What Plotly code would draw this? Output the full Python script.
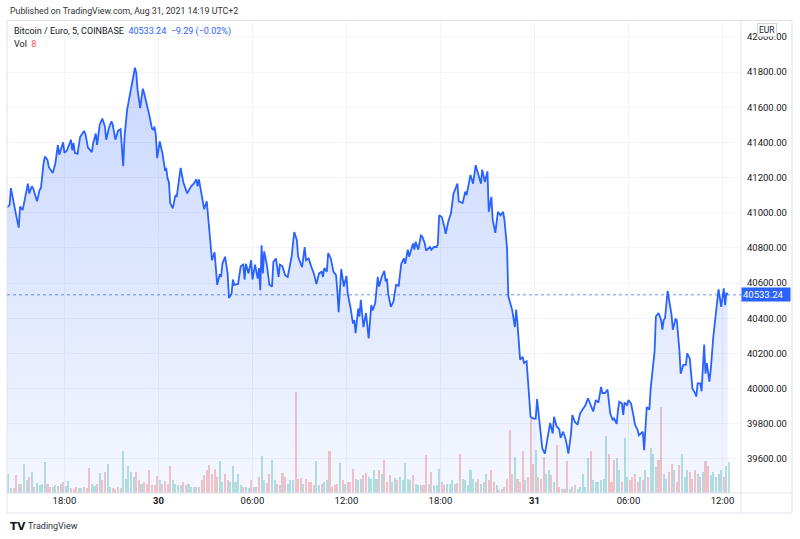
import numpy as np
import pandas as pd
import plotly.graph_objects as go

# ---------------- data ----------------
t29 = ["14:20","14:30","14:35","14:45","14:55","15:05","15:10","15:20","15:30","15:40",
       "15:45","15:55","16:00","16:15","16:25","16:30","16:40","16:45","16:55","17:00",
       "17:15","17:25","17:35","17:40","17:55","18:00","18:10","18:15","18:25","18:30",
       "18:35","18:40","18:50","19:00","19:15","19:20","19:30","19:45","19:50","20:00",
       "20:05","20:15","20:25","20:35","20:40","20:50","21:00","21:05","21:15","21:25",
       "21:35","21:45","21:50","22:00","22:10","22:20","22:30","22:35","22:40","22:50",
       "23:00","23:05","23:15","23:25","23:35","23:40","23:45","23:50","23:55"]
p29 = [41030,41045,41140,41055,40985,40915,41035,41015,41090,41165,
       41110,41150,41140,41065,41130,41140,41280,41320,41300,41260,
       41225,41280,41385,41330,41400,41340,41355,41375,41415,41355,
       41395,41340,41335,41430,41465,41450,41370,41345,41395,41450,
       41385,41500,41535,41490,41415,41480,41520,41500,41415,41465,
       41475,41265,41430,41585,41660,41755,41825,41795,41700,41595,
       41705,41680,41620,41555,41480,41470,41490,41440,41310]

t30 = ["00:05","00:15","00:25","00:30","00:35","00:40","00:45","00:55","01:05","01:10",
       "01:25","01:35","01:50","02:05","02:15","02:25","02:30","02:35","02:45","02:55",
       "03:05","03:10","03:20","03:25","03:35","03:45","03:55","04:00","04:05","04:15",
       "04:25","04:30","04:40","04:45","04:50","05:05","05:15","05:25","05:30","05:35",
       "05:45","05:55","06:00","06:10","06:20","06:25","06:30","06:35","06:40","06:45",
       "06:55","07:05","07:15","07:20","07:30","07:40","07:45","07:55","08:05","08:15",
       "08:30","08:40","08:50","08:55","09:10","09:20","09:25","09:35","09:45","09:55",
       "10:05","10:15","10:25","10:30","10:35","10:45","10:50","11:00","11:10","11:20",
       "11:25","11:30","11:40","11:50","12:00","12:05","12:15","12:25","12:30","12:35",
       "12:45","12:50","12:55","13:05","13:15","13:25","13:35","13:40","13:50","14:00",
       "14:05","14:15","14:25","14:30","14:35","14:40","14:50","15:00","15:10","15:20",
       "15:30","15:40","15:45","15:55","16:00","16:10","16:15","16:20","16:25","16:35",
       "16:45","16:50","17:00","17:05","17:20","17:25","17:35","17:45","17:50","17:55",
       "18:05","18:15","18:20","18:30","18:40","18:50","19:05","19:10","19:25","19:35",
       "19:40","19:55","20:05","20:15","20:25","20:35","20:40","20:50","21:00","21:05",
       "21:15","21:20","21:30","21:40","21:50","22:00","22:05","22:15","22:20","22:35",
       "22:45","22:50","22:55","23:05","23:15","23:20","23:30","23:35","23:45","23:55"]
p30 = [41405,41340,41245,41250,41195,41175,41055,41025,41100,41090,
       41255,41175,41110,41150,41165,41190,41150,41190,41110,41020,
       41065,40975,40845,40730,40775,40590,40650,40635,40710,40750,
       40655,40515,40540,40620,40590,40595,40695,40705,40620,40710,
       40655,40730,40620,40705,40625,40685,40560,40815,40655,40780,
       40705,40590,40580,40720,40740,40635,40705,40695,40645,40635,
       40750,40890,40845,40750,40690,40805,40730,40740,40695,40655,
       40595,40655,40665,40635,40685,40665,40770,40740,40665,40645,
       40560,40435,40680,40580,40640,40540,40465,40370,40390,40315,
       40455,40410,40505,40350,40430,40285,40475,40445,40485,40635,
       40580,40635,40670,40610,40625,40540,40465,40495,40590,40585,
       40710,40740,40710,40790,40750,40800,40825,40790,40835,40790,
       40870,40865,40825,40785,40805,40790,40805,40805,40820,40985,
       40975,40920,40880,40950,40995,41110,41165,41065,41055,41120,
       41100,41215,41165,41270,41215,41165,41245,41175,41235,41005,
       41090,40960,40885,41005,40985,41005,40960,40800,40525,40445,
       40350,40450,40370,40165,40180,40145,40155,40060,39840,39830]

t31 = ["00:05","00:10","00:20","00:30","00:40","00:55","01:00","01:10","01:15","01:25",
       "01:35","01:40","01:50","02:00","02:10","02:20","02:25","02:35","02:45","02:55",
       "03:05","03:15","03:25","03:35","03:45","03:55","04:05","04:15","04:20","04:30",
       "04:40","04:50","05:00","05:05","05:15","05:20","05:25","05:35","05:40","05:45",
       "05:55","06:00","06:10","06:20","06:25","06:35","06:40","06:55","07:00","07:10",
       "07:20","07:25","07:35","07:40","07:45","07:55","08:05","08:10","08:15","08:20",
       "08:30","08:35","08:45","08:50","09:00","09:05","09:15","09:20","09:30","09:40",
       "09:45","09:55","10:05","10:15","10:20","10:25","10:35","10:40","10:50","10:55",
       "11:00","11:10","11:15","11:25","11:35","11:45","11:55","12:05","12:10","12:15",
       "12:20"]
p31 = [39830,39940,39805,39660,39630,39755,39805,39745,39840,39785,
       39770,39720,39755,39710,39630,39745,39850,39810,39795,39860,
       39880,39905,39945,39905,39870,39935,39920,40010,39975,39975,
       39995,39860,39820,39830,39800,39880,39925,39915,39850,39920,
       39905,39935,39915,39840,39795,39765,39735,39755,39650,39895,
       39880,40000,40165,40210,40410,40430,40390,40335,40390,40400,
       40555,40505,40420,40335,40395,40390,40220,40085,40135,40135,
       40200,40170,40000,39975,39955,40030,40030,39985,40250,40085,
       40145,40040,40105,40295,40445,40565,40465,40570,40475,40545,
       40533.24]

# volume, 10-minute buckets starting 2021-08-29 14:20
vol_start = "2021-08-29 14:20"
volume = [4.75,1.25,1.25,4.5,2.25,2.25,7.25,3.25,4,5.25, 1.5,2.5,2,2.25,7.75,2.25,1.5,1.5,2,1.75,
          2.25,2.75,1.75,3,1.25,1,1.5,1.25,1.25,1.5, 1.25,6.25,2.25,1.75,2.25,5,3.25,5.25,7.25,1.5,
          1.25,1,1.5,1.25,10.5,3.5,6.75,5.25,4,5.25, 3.25,2.25,2.75,2.25,5.75,2,2,4.25,3.25,2.25,
          3,2.25,6.75,3.25,2.25,2,2,2.75,2,2.25,
          1.5,1.5,1.5,1.5,3.25,4.5,5.75,7,4.75,6, 4,8,2.75,4.75,3.25,2.75,6.75,2.75,4.75,2,
          1.5,1.5,1.25,3.25,1.5,1.5,4,9.25,3.25,2.5, 4.75,8.25,3.25,2.25,2,5,4,2.25,3.25,3.25,
          25.25,3.5,3.75,2.25,3.5,2.75,2.75,2,8,2, 2.25,2.75,3.25,10.5,1.5,2,2.25,7.5,3.25,2.25,
          2.75,2.75,6,3.5,3.25,3.5,4.5,5,4,
          3.5,5.75,3.5,5.75,4.75,8.25,2.75,4.5,2.75,3.75, 3.25,4,3.25,7.5,3.5,3.25,4.5,2.25,2,2,
          2,9.5,2.25,5.25,2,2,6,2.75,2,2.25, 2.25,3.25,2.25,2.5,9.75,3.5,3.25,2,5.75,3.5,
          2.75,3.5,2.25,2.75,4.75,3.25,5.75,2.75,2,0.75, 1,1.5,3.5,15.75,4.75,9,3.5,2.75,10.5,3.25,
          4,18.75,7.25,10.75,4,3.5,9,4.75,
          5.75,4.5,2.75,12,1.5,1,1,8,1,1.5, 2,1,1.5,4.75,1.5,8.75,10.5,3.25,2.75,2.75,
          3.25,3.5,14.25,9.75,2.75,8.25,8.75,5.75,2.75,13.75, 4,3.25,4,4.75,2.75,4,3.25,5.75,4,11.25,
          9.75,6.5,8.25,21.5,4.75,3.5,5.25,7.25,5.75,2.75, 7,9.75,4,5.75,5.25,3.5,5.75,4.75,4,5.25,
          8,6.75,4.5,5.25,4,4.75,5.75,4,6.75,7.75]

price_ticks = [39600, 39800, 40000, 40200, 40400, 40600, 40800, 41000, 41200, 41400, 41600, 41800, 42000]
time_ticks = ["2021-08-29 18:00", "2021-08-30 00:00", "2021-08-30 06:00", "2021-08-30 12:00",
              "2021-08-30 18:00", "2021-08-31 00:00", "2021-08-31 06:00", "2021-08-31 12:00"]
time_tick_labels = ["18:00", "<b>30</b>", "06:00", "12:00", "18:00", "<b>31</b>", "06:00", "12:00"]
last_price = 40533.24
change, change_pct = -9.29, -0.02
last_vol = 8

# ---------------- build ----------------
assert len(t29) == len(p29) and len(t30) == len(p30) and len(t31) == len(p31)
times = pd.to_datetime(["2021-08-29 " + t for t in t29] + ["2021-08-30 " + t for t in t30]
                       + ["2021-08-31 " + t for t in t31])
prices = np.array(p29 + p30 + p31, dtype=float)

vt = pd.date_range(vol_start, periods=len(volume), freq="10min")
tn = times.asi8.astype(float)
v0 = np.interp(vt.asi8.astype(float), tn, prices)
v1 = np.interp((vt + pd.Timedelta(minutes=10)).asi8.astype(float), tn, prices)
UP, DOWN = "rgba(38,166,154,0.33)", "rgba(239,83,80,0.33)"
vcolors = [UP if b >= a else DOWN for a, b in zip(v0, v1)]

FONT = "Roboto, 'Liberation Sans', sans-serif"
TXT = "#131722"
BLUE = "#2962ff"

fig = go.Figure()
fig.add_trace(go.Bar(x=vt + pd.Timedelta(minutes=5), y=volume, marker=dict(color=vcolors, line=dict(width=0)),
                     width=470000, yaxis="y", hoverinfo="skip"))
fig.add_trace(go.Scatter(x=times, y=prices, yaxis="y2", mode="lines",
                         line=dict(color=BLUE, width=1.8),
                         fill="tozeroy",
                         fillgradient=dict(type="vertical", start=39406, stop=42095,
                                           colorscale=[[0, "rgba(41,98,255,0.05)"], [1, "rgba(41,98,255,0.27)"]])))

PL, PR, PT, PB = 7, 741, 20, 493
W, H = PR - PL, PB - PT
def px(x): return (x - PL) / W
def py(y): return (PB - y) / H

fig.update_layout(
    width=800, height=539, margin=dict(l=PL, r=800 - PR, t=PT, b=539 - PB),
    paper_bgcolor="white", plot_bgcolor="white", showlegend=False,
    font=dict(family=FONT, color=TXT, size=9.5),
    bargap=0,
    xaxis=dict(type="date", range=["2021-08-29 14:20", "2021-08-31 13:11"],
               tickvals=time_ticks, ticktext=time_tick_labels, showgrid=True, gridcolor="#f0f3fa",
               gridwidth=1, ticks="", zeroline=False, showline=False,
               tickfont=dict(size=9.5, color=TXT, family=FONT)),
    yaxis=dict(range=[0, H / 4], visible=False, showgrid=False, zeroline=False),
    yaxis2=dict(overlaying="y", side="right", range=[39406.6, 42095.6],
                tickvals=price_ticks, ticktext=[f"{v:.2f}" for v in price_ticks],
                showgrid=True, gridcolor="#f0f3fa", gridwidth=1, zeroline=False, showline=False,
                ticks="", ticklabelstandoff=5,
                tickfont=dict(size=9.5, color=TXT, family=FONT)),
)

border = "#e0e3eb"
fig.add_shape(type="rect", xref="paper", yref="paper", x0=px(7), x1=px(792), y0=py(513), y1=py(20.5),
              line=dict(color=border, width=1))
fig.add_shape(type="line", xref="paper", yref="paper", x0=1, x1=1, y0=py(513), y1=py(20.5),
              line=dict(color=border, width=1))
fig.add_shape(type="line", xref="paper", yref="paper", x0=0, x1=px(792), y0=0, y1=0,
              line=dict(color=border, width=1))
fig.add_shape(type="line", xref="paper", yref="y2", x0=0, x1=1, y0=last_price, y1=last_price,
              line=dict(color=BLUE, width=1, dash="dot"), opacity=0.7)

ann = []
ann.append(dict(text="Published on TradingView.com, Aug 31, 2021 14:19 UTC+2", x=px(8), y=py(11),
                xanchor="left", yanchor="middle", font=dict(size=8.8, color="#333")))
ann.append(dict(text=f"Bitcoin / Euro, 5, COINBASE  <span style='color:{BLUE}'>{last_price:.2f}  "
                     f"\u2212{abs(change):.2f} (\u2212{abs(change_pct):.2f}%)</span>",
                x=px(12), y=py(31), xanchor="left", yanchor="middle", font=dict(size=9, color=TXT)))
ann.append(dict(text=f"Vol  <span style='color:#ef5350'>{last_vol}</span>", x=px(12), y=py(44),
                xanchor="left", yanchor="middle", font=dict(size=9, color=TXT)))
ann.append(dict(text="EUR", x=px(767), y=py(30), xanchor="center", yanchor="middle",
                bgcolor="white", bordercolor="#d1d4dc", borderwidth=1, borderpad=1,
                font=dict(size=8.5, color=TXT)))
ann.append(dict(text=f"{last_price:.2f}", x=1, xref="paper", y=last_price, yref="y2",
                xanchor="left", yanchor="middle", bgcolor=BLUE, borderpad=1, width=46, align="left",
                font=dict(size=9.5, color="white")))
ann.append(dict(text="<b>TV</b>", x=px(8), y=py(526), xanchor="left", yanchor="middle",
                font=dict(size=10.5, color=TXT, family="'DejaVu Sans', sans-serif")))
ann.append(dict(text="TradingView", x=px(26), y=py(526), xanchor="left", yanchor="middle",
                font=dict(size=9, color="#2a2e39")))
for a in ann:
    a.setdefault("xref", "paper")
    a.setdefault("yref", "paper")
    a["showarrow"] = False
fig.update_layout(annotations=ann)

fig.write_html("out.html", config={"displayModeBar": False},
               post_script="document.body.style.margin='0';document.body.style.overflow='hidden';")
